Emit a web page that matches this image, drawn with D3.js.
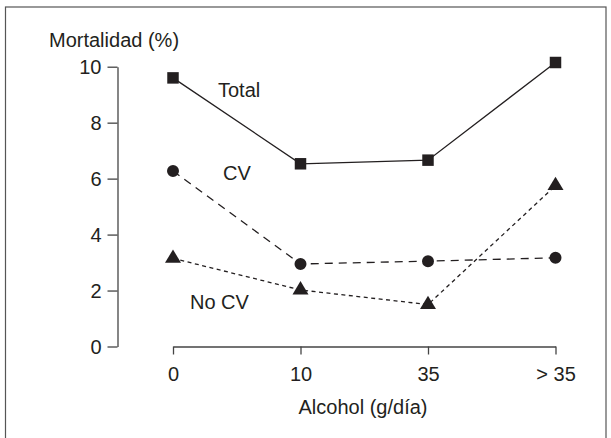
<!DOCTYPE html>
<html>
<head>
<meta charset="utf-8">
<title>Mortalidad según consumo de alcohol</title>
<style>
  body { margin: 0; background: #fff; }
  svg { display: block; }
  text { font-family: "Liberation Sans", Arial, sans-serif; fill: #231f20; }
</style>
</head>
<body>
<div id="chart"></div>
<script src="https://d3js.org/d3.v7.min.js"></script>
<script>
// data
const categories = ["0", "10", "35", "> 35"];
const total = [9.6, 6.53, 6.66, 10.15];
const cv = [6.27, 2.95, 3.05, 3.17];
const noCv = [3.15, 2.02, 1.5, 5.75];
const yTicks = [0, 2, 4, 6, 8, 10];

const W = 611, H = 438;
const ink = "#231f20";

const svg = d3.select("#chart").append("svg")
    .attr("width", W)
    .attr("height", H);

// outer frame (bottom edge falls outside the picture)
svg.append("rect")
    .attr("x", 5.5).attr("y", 7)
    .attr("width", 600.5).attr("height", 450)
    .attr("fill", "none")
    .attr("stroke", "#555")
    .attr("stroke-width", 1.2);

const x = d3.scalePoint()
    .domain(categories)
    .range([173, 555.5]);

const y = d3.scaleLinear()
    .domain([0, 10])
    .range([346.5, 66.7]);

// y axis
const yAxis = svg.append("g")
    .attr("transform", "translate(117.5,0)")
    .call(d3.axisLeft(y).tickValues(yTicks).tickSize(10).tickSizeOuter(0).tickPadding(6));

// x axis
const xAxis = svg.append("g")
    .attr("transform", `translate(0,${y(0)})`)
    .call(d3.axisBottom(x).tickSize(8).tickSizeOuter(0).tickPadding(12));

[yAxis, xAxis].forEach(g => {
    g.select(".domain").attr("stroke", "#444").attr("stroke-width", 1.3);
    g.selectAll(".tick line").attr("stroke", "#444").attr("stroke-width", 1.3);
    g.selectAll(".tick text")
        .attr("fill", ink)
        .style("font-size", "20px")
        .style("font-family", "'Liberation Sans', Arial, sans-serif");
});
yAxis.selectAll(".tick text").attr("dy", "0.36em");

// lines
const line = d3.line()
    .x((d, i) => x(categories[i]))
    .y(d => y(d));

const series = [
    {name: "Total", values: total, dash: null, marker: "square"},
    {name: "CV", values: cv, dash: "8 6", marker: "circle"},
    {name: "No CV", values: noCv, dash: "4 3.5", marker: "triangle"}
];

series.forEach(s => {
    svg.append("path")
        .datum(s.values)
        .attr("d", line)
        .attr("fill", "none")
        .attr("stroke", ink)
        .attr("stroke-width", 1.3)
        .attr("stroke-dasharray", s.dash);
});

// markers
const tri = {
    draw(ctx) {
        // 16 wide, 13.4 tall, centred on centroid
        ctx.moveTo(0, -8.9);
        ctx.lineTo(8, 4.5);
        ctx.lineTo(-8, 4.5);
        ctx.closePath();
    }
};
const shapes = {
    square: d3.symbol(d3.symbolSquare, 132),
    circle: d3.symbol(d3.symbolCircle, 113),
    triangle: d3.symbol(tri)
};

series.forEach(s => {
    svg.append("g").selectAll("path")
        .data(s.values)
        .join("path")
        .attr("transform", (d, i) => `translate(${x(categories[i])},${y(d)})`)
        .attr("d", shapes[s.marker]())
        .attr("fill", ink);
});

// series labels
const labels = [
    {text: "Total", x: 218, y: 96.5},
    {text: "CV", x: 223, y: 180},
    {text: "No CV", x: 190, y: 309}
];
svg.selectAll(".lab")
    .data(labels)
    .join("text")
    .attr("class", "lab")
    .attr("x", d => d.x)
    .attr("y", d => d.y)
    .style("font-size", "20px")
    .text(d => d.text);

// axis titles
svg.append("text")
    .attr("x", 49)
    .attr("y", 46.5)
    .style("font-size", "20px")
    .text("Mortalidad (%)");

svg.append("text")
    .attr("x", 363)
    .attr("y", 414)
    .attr("text-anchor", "middle")
    .style("font-size", "20px")
    .text("Alcohol (g/día)");
</script>
</body>
</html>
